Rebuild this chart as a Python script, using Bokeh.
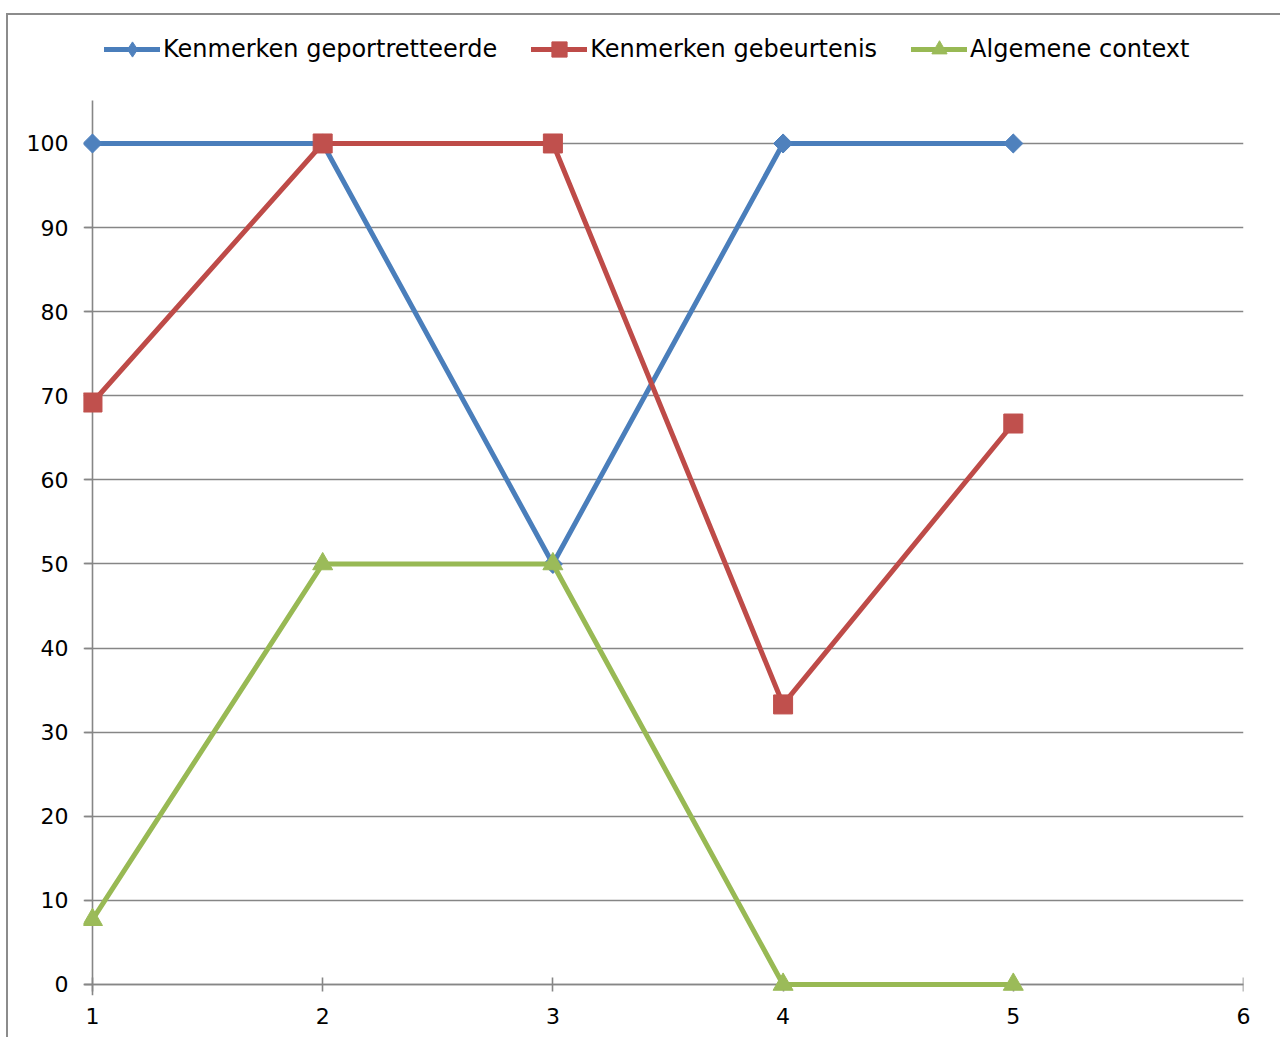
import numpy as np
from bokeh.plotting import figure
from bokeh.models import Range1d, FixedTicker, Legend, LegendItem, LinearAxis
from bokeh.embed import file_html
from bokeh.resources import INLINE

# Data
x = [1, 2, 3, 4, 5]
portrayed = [100, 100, 50, 100, 100]
event = [69.2, 100, 100, 33.3, 66.7]
context = [7.7, 50, 50, 0, 0]
series_names = ["Kenmerken geportretteerde", "Kenmerken gebeurtenis", "Algemene context"]
x_ticks = [1, 2, 3, 4, 5, 6]
y_ticks = [0, 10, 20, 30, 40, 50, 60, 70, 80, 90, 100]

FONT = "DejaVu Sans"
GRID = "#868686"
EDGE = "#8C8C8C"

Y_LOW, Y_AXIS_TOP, Y_HIGH = -1.31, 105.1, 117.0

p = figure(
    width=1280, height=1037,
    x_range=Range1d(0.961, 6.0), y_range=Range1d(Y_LOW, Y_HIGH),
    output_backend="svg", toolbar_location=None,
    x_axis_location=None, y_axis_location=None,
    min_border_left=83, min_border_right=37,
    min_border_top=0, min_border_bottom=42,
)
p.title.visible = False
p.outline_line_color = None
p.background_fill_alpha = 0
p.border_fill_alpha = 0
# chart-area border (left and top edges)
p.styles = {
    "background": (
        f"linear-gradient({EDGE},{EDGE}) 6px 13px / 2px 100% no-repeat, "
        f"linear-gradient({EDGE},{EDGE}) 6px 13px / 100% 2px no-repeat, white"
    )
}

# horizontal gridlines
p.xgrid.visible = False
p.ygrid.ticker = FixedTicker(ticks=y_ticks)
p.ygrid.grid_line_color = GRID
p.ygrid.grid_line_width = 1.6


def line_axis(ticks, loc, t_in, t_out, bounds="auto"):
    # axis line and tick marks, crossing at (1, 0), beneath the series
    ax = LinearAxis(ticker=FixedTicker(ticks=ticks), fixed_location=loc, bounds=bounds)
    ax.axis_line_color = GRID
    ax.axis_line_width = 1.6
    ax.major_tick_line_color = GRID
    ax.major_tick_line_width = 1.6
    ax.major_tick_in = t_in
    ax.major_tick_out = t_out
    ax.minor_tick_line_color = None
    ax.major_label_text_alpha = 0
    ax.level = "underlay"
    return ax


def label_axis(ticks, standoff):
    # tick labels only, at the frame edge
    ax = LinearAxis(ticker=FixedTicker(ticks=ticks))
    ax.axis_line_color = None
    ax.major_tick_line_color = None
    ax.minor_tick_line_color = None
    ax.major_tick_in = 0
    ax.major_tick_out = 0
    ax.major_label_standoff = standoff
    ax.major_label_text_font = FONT
    ax.major_label_text_font_size = "22px"
    ax.major_label_text_color = "black"
    return ax


p.add_layout(line_axis(x_ticks, 0, 7, 7), "below")
p.add_layout(label_axis(x_ticks, 12), "below")
p.add_layout(line_axis(y_ticks, 1, 0, 8, bounds=(Y_LOW, Y_AXIS_TOP)), "left")
p.add_layout(label_axis(y_ticks, 15), "left")

# (line colour, marker colour, marker, angle, size, legend key marker, key size)
styles = [
    ("#4A7EBB", "#4F81BD", "square", np.pi / 4, 13.5, "diamond", 18),
    ("#BE4B48", "#C0504D", "square", 0.0, 19, None, None),
    ("#98B954", "#9BBB59", "triangle", 0.0, 20, None, None),
]

items = []
for name, vals, (lc, mc, mk, ang, sz, kmk, ksz) in zip(
        series_names, [portrayed, event, context], styles):
    lr = p.line(x, vals, line_color=lc, line_width=5, line_join="round", line_cap="round")
    key = None
    if kmk is not None:
        # narrow diamond key, fully covered by the marker drawn above it
        key = p.scatter(x, vals, marker=kmk, size=ksz, fill_color=mc, line_color=mc)
    sr = p.scatter(x, vals, marker=mk, angle=ang, size=sz,
                   fill_color=mc, line_color=mc, line_width=1)
    items.append(LegendItem(label=name, renderers=[lr, key if key is not None else sr]))

legend = Legend(
    items=items, orientation="horizontal", location=(21, 927),
    padding=0, margin=0, spacing=34,
    glyph_width=56, glyph_height=38, label_standoff=3, label_height=24,
    label_text_font=FONT, label_text_font_size="24px", label_text_color="black",
    border_line_color=None, background_fill_alpha=0,
)
p.add_layout(legend, "center")

open("out.html", "w").write(file_html(p, INLINE))
